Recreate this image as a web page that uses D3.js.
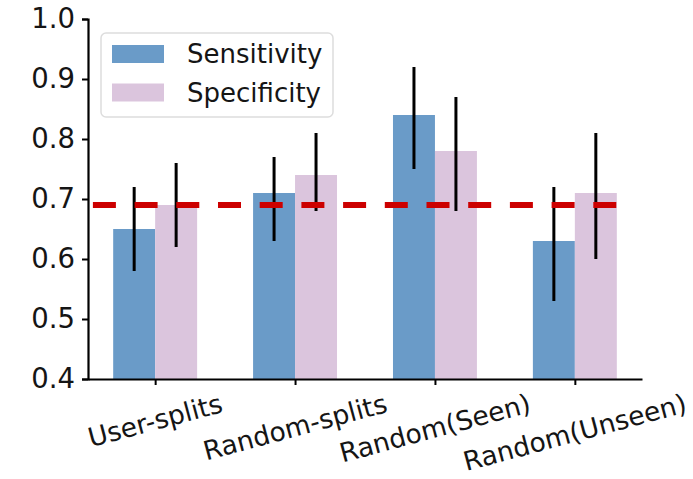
<!DOCTYPE html>
<html>
<head>
<meta charset="utf-8">
<script src="https://cdn.jsdelivr.net/npm/d3@7/dist/d3.min.js"></script>
<style>
  html, body { margin: 0; padding: 0; background: #fff; }
  svg { display: block; }
  text { font-family: "DejaVu Sans", sans-serif; fill: #151515; }
</style>
</head>
<body>
<svg id="chart" width="693" height="479"></svg>
<script>
// Evaluation settings
const categories = ["User-splits", "Random-splits", "Random(Seen)", "Random(Unseen)"];
const seriesNames = ["Sensitivity", "Specificity"];
const sensitivity = [0.65, 0.71, 0.84, 0.63];
const specificity = [0.69, 0.74, 0.78, 0.71];
// error bar extents [low, high]
const sensitivityErr = [[0.58, 0.72], [0.63, 0.77], [0.75, 0.92], [0.53, 0.72]];
const specificityErr = [[0.62, 0.76], [0.68, 0.81], [0.68, 0.87], [0.60, 0.81]];
const yTicks = [0.4, 0.5, 0.6, 0.7, 0.8, 0.9, 1.0];
const baseline = 0.69;

const colors = ["#6a9bc8", "#dbc5dd"];
const barW = 0.3; // in category units

const svg = d3.select("#chart");
const plotLeft = 88, plotRight = 642, plotTop = 19, plotBottom = 379;

const x = d3.scaleLinear().domain([-0.48, categories.length - 1 + 0.48]).range([plotLeft, plotRight]);
const y = d3.scaleLinear().domain([0.4, 1.0]).range([plotBottom, plotTop]);

const series = [
  { name: seriesNames[0], values: sensitivity, err: sensitivityErr, offset: -barW, color: colors[0] },
  { name: seriesNames[1], values: specificity, err: specificityErr, offset: 0, color: colors[1] }
];

// bars
series.forEach(s => {
  svg.append("g").selectAll("rect").data(s.values).join("rect")
    .attr("x", (d, i) => x(i + s.offset))
    .attr("width", x(barW) - x(0))
    .attr("y", d => y(d))
    .attr("height", d => y(0.4) - y(d))
    .attr("fill", s.color);
});

// error bars
series.forEach(s => {
  svg.append("g").selectAll("line").data(s.err).join("line")
    .attr("x1", (d, i) => x(i + s.offset + barW / 2))
    .attr("x2", (d, i) => x(i + s.offset + barW / 2))
    .attr("y1", d => y(d[0]))
    .attr("y2", d => y(d[1]))
    .attr("stroke", "#000")
    .attr("stroke-width", 3);
});

// reference line
svg.append("line")
  .attr("x1", x(-0.445)).attr("x2", x(3.345))
  .attr("y1", y(baseline)).attr("y2", y(baseline))
  .attr("stroke", "#cc0000")
  .attr("stroke-width", 6)
  .attr("stroke-dasharray", "23,18.7");

// y axis
const yAxis = svg.append("g").attr("transform", `translate(${plotLeft},0)`)
  .call(d3.axisLeft(y).tickValues(yTicks).tickFormat(d3.format(".1f")).tickSize(6).tickPadding(7));
yAxis.select(".domain").attr("stroke", "#000").attr("stroke-width", 2.2);
yAxis.selectAll(".tick line").attr("stroke", "#000").attr("stroke-width", 2);
yAxis.selectAll(".tick text").attr("font-size", 27.5).attr("fill", "#151515")
  .attr("font-family", "DejaVu Sans, sans-serif");

// x axis
const xAxis = svg.append("g").attr("transform", `translate(0,${plotBottom})`)
  .call(d3.axisBottom(x).tickValues(d3.range(categories.length)).tickFormat(() => "").tickSize(6).tickSizeOuter(0));
xAxis.select(".domain").attr("stroke", "#000").attr("stroke-width", 2.2);
xAxis.selectAll(".tick line").attr("stroke", "#000").attr("stroke-width", 2);

// rotated category labels, top of rotated box aligned below the axis
const angle = 15 * Math.PI / 180;
const labelTop = 389;
const labelSize = 26.5;
const labels = svg.append("g").selectAll("text").data(categories).join("text")
  .attr("font-size", labelSize)
  .attr("text-anchor", "middle")
  .attr("dominant-baseline", "central")
  .text(d => d);
labels.each(function(d, i) {
  const len = this.getComputedTextLength();
  const h = labelSize * 1.05;
  const cy = labelTop + (len * Math.sin(angle) + h * Math.cos(angle)) / 2;
  d3.select(this).attr("transform", `translate(${x(i)},${cy}) rotate(-15)`);
});

// legend
const lg = svg.append("g");
lg.append("rect")
  .attr("x", 101).attr("y", 33).attr("width", 232).attr("height", 84)
  .attr("rx", 5).attr("fill", "#fff").attr("fill-opacity", 0.85)
  .attr("stroke", "#dddddd").attr("stroke-width", 1.5);
series.forEach((s, i) => {
  lg.append("rect")
    .attr("x", 112).attr("y", 45 + i * 38.5).attr("width", 52).attr("height", 18)
    .attr("fill", s.color);
  lg.append("text")
    .attr("x", 187).attr("y", 54 + i * 38.5)
    .attr("font-size", 26)
    .attr("dominant-baseline", "central")
    .text(s.name);
});
</script>
</body>
</html>
